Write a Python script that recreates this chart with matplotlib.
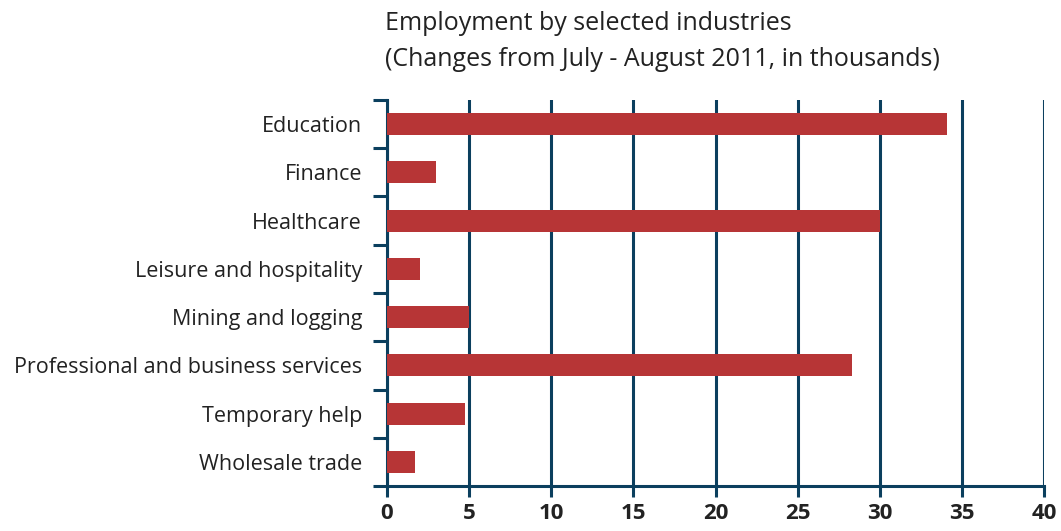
import matplotlib.pyplot as plt
import numpy as np

# ---------------- Data ---------------- #

industries = ["Education", "Finance", "Healthcare", "Leisure and hospitality",
              "Mining and logging", "Professional and business services",
              "Temporary help", "Wholesale trade"]
changes = [34.1, 3.0, 30.0, 2.0, 5.0, 28.3, 4.75, 1.7]
x_ticks = [0, 5, 10, 15, 20, 25, 30, 35, 40]

bar_color = "#b73536"
line_color = "#0b3f5e"

plt.rcParams['font.family'] = ['Open Sans', 'DejaVu Sans']

# ---------------- Plot ---------------- #

fig = plt.figure(figsize=(10.61, 5.31), dpi=100)
ax = fig.add_axes([0.3648, 0.0847, 0.6192, 0.727])

y = np.arange(len(industries))
ax.barh(y, changes, height=0.46, color=bar_color, zorder=3)

ax.set_xlim(0, 40)
ax.set_ylim(len(industries) - 0.5, -0.5)

ax.set_xticks(x_ticks)
ax.set_xticklabels([str(t) for t in x_ticks], fontsize=16, fontweight='bold', color="#222222")
ax.xaxis.grid(True, color=line_color, linewidth=2.2, zorder=1)
ax.tick_params(axis='x', length=8, width=2.2, color=line_color, pad=4)

ax.set_yticks(y)
ax.set_yticklabels(industries, fontsize=15.5, color="#222222")
ax.tick_params(axis='y', which='major', length=0, pad=18)
ax.set_yticks(np.arange(len(industries) + 1) - 0.5, minor=True)
ax.tick_params(axis='y', which='minor', length=10, width=2.2, color=line_color)

for side in ['top', 'right']:
    ax.spines[side].set_visible(False)
for side in ['left', 'bottom']:
    ax.spines[side].set_color(line_color)
    ax.spines[side].set_linewidth(2.2)

fig.text(0.3629, 0.955, "Employment by selected industries", fontsize=18,
         color="#222222", va='center')
fig.text(0.3629, 0.888, "(Changes from July - August 2011, in thousands)", fontsize=18,
         color="#222222", va='center')

fig.savefig("out.png", dpi=100)
